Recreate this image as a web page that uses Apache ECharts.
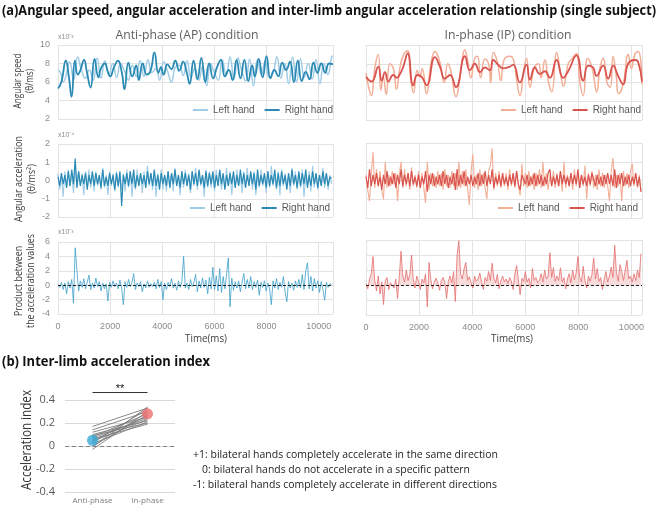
<!DOCTYPE html>
<html><head><meta charset="utf-8">
<script src="https://cdn.jsdelivr.net/npm/echarts@6/dist/echarts.min.js"></script>
<style>html,body{margin:0;padding:0;background:#fff}#c{width:658px;height:505px}</style>
</head><body><div id="c"></div>
<script>
// ---------------- DATA ----------------
const xTickLabels = ['0','2000','4000','6000','8000','10000'];
const apDurationMs = 10550;
const ipDurationMs = 10400;
const sampleStepMs = 66;

// Angular speed (x10^-3 theta/ms), [time ms, value]
const apSpeedRight = [[0,5.3],[130,6.0],[300,8.3],[420,6.5],[520,4.4],[650,8.3],[760,6.8],[850,7.2],[1000,8.4],[1100,7.2],[1250,5.4],[1400,8.5],[1550,6.5],[1650,7.5],[1800,8.0],[1900,7.2],[2000,6.6],[2150,7.6],[2300,8.3],[2450,7.0],[2550,5.2],[2700,8.1],[2850,6.6],[3000,7.8],[3100,6.2],[3250,8.0],[3400,6.8],[3550,7.2],[3700,9.2],[3850,7.0],[3950,7.6],[4050,6.8],[4200,7.9],[4350,7.4],[4500,8.3],[4650,7.2],[4800,8.2],[4950,6.9],[5050,5.8],[5200,8.3],[5350,6.3],[5500,8.6],[5650,6.0],[5800,8.0],[5950,6.4],[6100,7.6],[6250,8.4],[6400,6.6],[6550,7.3],[6700,6.2],[6850,8.4],[7000,6.4],[7150,8.4],[7300,6.1],[7450,7.8],[7550,6.6],[7700,8.5],[7850,6.5],[8000,8.8],[8150,6.4],[8300,7.3],[8450,6.6],[8600,8.1],[8750,7.3],[8900,8.2],[9050,6.0],[9200,8.3],[9350,6.1],[9500,7.1],[9650,6.3],[9800,8.1],[9950,7.0],[10100,8.0],[10250,7.0],[10400,8.0],[10550,7.9]];
const apSpeedLeft = [[0,7.3],[100,7.0],[200,6.0],[300,6.6],[450,8.2],[600,6.2],[750,8.7],[900,7.3],[1050,6.4],[1200,7.3],[1350,6.2],[1500,8.6],[1650,6.4],[1800,8.3],[1950,6.8],[2100,8.0],[2250,6.5],[2400,8.0],[2550,7.2],[2700,6.2],[2850,7.8],[3000,6.6],[3150,8.3],[3300,6.6],[3450,8.4],[3600,7.0],[3750,7.5],[3900,6.2],[4050,8.2],[4200,7.2],[4350,6.0],[4500,7.6],[4650,7.8],[4800,6.7],[4950,8.3],[5100,6.5],[5250,7.5],[5400,6.2],[5550,7.7],[5700,5.6],[5850,8.0],[6000,7.0],[6150,6.2],[6300,8.4],[6450,6.7],[6600,8.7],[6750,6.3],[6900,8.6],[7050,7.2],[7200,6.1],[7350,8.5],[7500,5.6],[7650,8.4],[7800,6.8],[7950,8.3],[8100,6.5],[8250,7.0],[8400,8.7],[8550,6.4],[8700,8.0],[8850,5.8],[9000,8.7],[9150,6.0],[9300,8.5],[9450,6.5],[9600,8.0],[9750,6.3],[9900,8.4],[10050,5.8],[10200,8.0],[10350,6.8],[10500,8.7],[10550,8.8]];
const ipSpeedRight = [[0,6.6],[213,6.1],[464,7.7],[590,6.2],[715,7.1],[841,6.1],[1029,6.8],[1155,6.5],[1280,6.9],[1406,7.7],[1569,9.1],[1782,5.7],[1933,6.8],[2096,6.6],[2284,5.7],[2598,8.7],[2786,7.7],[2974,6.4],[3163,6.8],[3389,5.5],[3727,8.8],[3916,7.3],[4104,8.0],[4292,7.1],[4480,7.6],[4669,7.3],[4794,8.4],[4982,7.9],[5171,7.5],[5422,7.7],[5547,7.9],[5798,6.0],[6049,7.9],[6175,6.3],[6363,7.6],[6551,6.9],[6739,7.2],[6928,6.5],[7179,8.4],[7430,6.5],[7618,7.2],[7932,8.9],[8183,6.2],[8371,7.8],[8559,7.6],[8685,6.7],[8936,7.8],[9124,6.4],[9312,7.8],[9500,6.7],[9689,5.8],[9877,8.0],[10128,8.4],[10253,8.2],[10400,6.1]];
const ipSpeedLeft = [[0,7.0],[100,5.5],[200,4.6],[330,7.5],[460,9.0],[560,5.2],[650,6.6],[760,4.7],[900,8.0],[1030,7.5],[1150,5.3],[1280,7.6],[1420,9.0],[1570,9.4],[1680,6.5],[1790,4.9],[1930,7.3],[2030,6.6],[2120,7.5],[2280,4.8],[2450,8.0],[2600,9.3],[2780,8.2],[2950,6.0],[3080,8.0],[3200,7.2],[3390,4.5],[3560,7.0],[3720,9.5],[3820,8.5],[3950,6.5],[4100,8.6],[4200,8.8],[4320,6.5],[4480,8.5],[4620,8.0],[4700,6.0],[4800,9.2],[4950,8.2],[5080,6.2],[5200,8.4],[5420,8.8],[5560,8.4],[5680,6.2],[5800,4.6],[5950,7.5],[6050,8.6],[6180,5.5],[6350,7.6],[6500,8.0],[6600,6.5],[6740,8.4],[6880,6.0],[7000,5.0],[7180,9.2],[7330,7.0],[7440,5.6],[7620,8.0],[7780,8.6],[7930,9.1],[8060,6.0],[8180,4.6],[8350,8.6],[8470,8.0],[8560,7.0],[8690,5.0],[8820,7.6],[8940,8.6],[9080,6.0],[9200,5.5],[9310,8.8],[9420,7.0],[9520,4.8],[9690,5.8],[9880,9.0],[10000,7.5],[10130,9.0],[10260,9.3],[10400,5.8]];

// Angular acceleration (x10^-4), sampled every sampleStepMs
const apAccRight = [0.2,-0.3,0.4,-0.2,0.3,-0.4,0.5,-0.3,0.6,-0.2, 1.2,-0.4,0.5,-0.3,0.3,-0.2,0.4,-0.5,0.3,-0.2, 0.5,-0.3,0.4,-0.2,0.3,-0.4,0.6,-0.3,0.2,-0.3, 0.4,-0.2,0.3,-0.5,0.4,-0.3,0.5,-1.4,0.3,-0.2, 0.4,-0.3,0.5,-0.2,0.6,-0.4,0.3,-0.3,0.4,-0.2, 0.3,-0.4,0.5,-0.2,0.4,-0.3,0.6,-0.3,0.3,-0.5, 0.4,-0.2,0.3,-0.3,0.5,-0.4,0.4,-0.2,0.6,-0.3, 0.3,-0.4,0.5,-0.2,0.4,-0.3,0.3,-0.5,0.5,-0.2, 0.4,-0.3,0.6,-0.2,0.3,-0.4,0.5,-0.3,0.4,-0.2, 0.5,-0.4,0.3,-0.3,0.6,-0.2,0.4,-0.5,0.3,-0.3, 0.4,-0.2,0.5,-0.4,0.3,-0.3,0.6,-0.2,0.4,-0.4, 0.3,-0.3,0.5,-0.2,0.4,-0.5,0.6,-0.3,0.3,-0.2, 0.4,-0.4,0.5,-0.3,0.3,-0.2,0.6,-0.4,0.4,-0.3, 0.5,-0.2,0.3,-0.5,0.4,-0.3,0.6,-0.2,0.3,-0.4, 0.5,-0.3,0.4,-0.2,0.6,-0.4,0.3,-0.3,0.5,-0.2, 0.4,-0.4,0.3,-0.3,0.5,-0.2,0.4,-0.3,0.2,0.1];
const apAccLeft = [0.4,-0.5,0.3,-0.9,0.5,-0.4,0.6,-0.3,0.4,-0.7, 0.8,-0.4,0.5,-0.3,0.4,-0.8,0.5,-0.3,0.6,-0.4, 0.4,-0.6,0.5,-0.3,0.3,-0.5,0.7,-0.4,0.3,-0.8, 0.5,-0.3,0.4,-0.6,0.5,-0.4,0.3,-0.5,0.4,-0.6, 0.6,-0.4,0.5,-0.9,0.3,-0.5,0.6,-0.3,0.4,-0.7, 0.5,-0.4,0.8,-0.3,0.4,-0.5,0.5,-0.9,0.4,-0.3, 0.6,-0.5,0.3,-0.6,0.5,-0.4,0.4,-0.6,0.7,-0.3, 0.3,-0.8,0.5,-0.4,0.6,-0.3,0.4,-0.7,0.5,-0.3, 0.7,-0.5,0.4,-0.3,0.3,-0.9,0.6,-0.4,0.5,-0.4, 0.4,-0.6,0.6,-0.3,0.5,-0.5,0.3,-0.4,0.7,-0.3, 0.5,-0.8,0.4,-0.4,0.6,-0.3,0.3,-0.7,0.5,-0.4, 0.7,-0.3,0.4,-0.5,0.5,-0.8,0.3,-0.4,0.6,-0.3, 0.4,-0.7,0.5,-0.4,0.8,-0.3,0.3,-0.5,0.5,-0.8, 0.6,-0.3,0.4,-0.4,0.3,-0.7,0.7,-0.3,0.5,-0.5, 0.4,-0.4,0.6,-0.9,0.3,-0.3,0.5,-0.6,0.8,-0.4, 0.4,-0.5,0.3,-0.3,0.7,-0.4,0.4,-0.5,0.3,-0.2];
const ipAccRight = [0.2,-0.4,0.6,-0.3,0.3,-0.2,0.4,-0.3,0.2,-0.5, 0.3,-0.2,0.5,-0.3,0.2,-0.2,0.4,-0.4,0.3,-0.2, 0.6,-0.3,0.3,-0.2,0.4,-0.3,0.5,-0.2,0.2,-0.3, 0.3,-0.4,0.2,-0.2,0.5,-0.6,0.3,-0.2,0.4,-0.3, 0.2,-0.2,0.3,-0.3,0.5,-0.2,0.3,-0.4,0.2,-0.2, 0.4,-0.5,0.6,-0.3,0.3,-0.2,0.5,-0.3,0.2,-0.2, 0.3,-0.3,0.2,-0.2,0.4,-0.3,0.3,-0.2,0.5,-0.3, 0.3,-0.2,0.6,-0.4,0.2,-0.2,0.3,-0.3,0.4,-0.2, 0.2,-0.3,0.3,-0.2,0.4,-0.3,0.5,-0.2,-0.5,0.3, 0.2,-0.2,0.3,-0.3,0.2,-0.2,0.4,-0.3,0.3,-0.2, 0.3,-0.3,0.2,-0.2,0.4,0.6,-0.3,0.2,-0.2,0.3, -0.3,0.5,-0.2,0.3,-0.2,0.2,-0.3,0.4,-0.2,0.3, -0.2,0.6,-0.4,0.3,-0.2,0.2,-0.3,0.3,-0.2,0.4, 0.5,-0.3,0.3,-0.2,0.2,-0.3,0.3,-0.2,0.4,-0.2, 0.3,-0.3,0.6,-0.4,0.3,-0.2,0.4,-0.3,0.2,-0.2, 0.3,-0.3,0.2,-0.2,0.4,-0.3,0.2,-0.6];
const ipAccLeft = [0.3,-0.5,-1.1,0.4,1.5,-0.4,0.6,-0.3,0.5,-0.5, -1.0,1.0,-0.4,0.3,-0.3,0.5,-0.2,0.4,-1.1,0.3, 1.0,-0.4,0.6,-0.3,0.4,-0.5,0.7,-0.3,0.3,-0.4, 0.5,-0.3,0.4,-0.4,-1.2,1.0,-0.5,0.4,-0.3,0.3, -0.4,0.5,-0.3,0.4,-0.5,0.6,-0.3,0.3,-0.4,0.5, -0.3,0.4,-0.5,1.0,-0.4,0.5,-0.3,0.6,-0.4,-1.3, 0.5,1.4,-0.4,0.3,-0.5,0.6,-0.3,0.4,-0.4,-1.0, 0.5,0.8,1.7,-0.5,0.4,-0.3,0.5,-0.4,0.3,-0.3, 0.4,-0.5,0.6,-0.3,0.3,-0.4,0.5,-0.3,-0.8,0.9, -0.3,0.4,-0.4,0.5,-0.3,0.3,-0.5,0.4,-0.3,0.6, -0.4,1.0,-0.3,0.4,-0.5,0.3,-0.3,0.5,-0.4,0.4, -0.3,0.5,-0.6,1.0,-0.4,0.3,-0.3,0.4,-0.5,0.6, -0.3,0.4,-0.4,0.3,-0.3,0.8,-1.0,0.4,-0.3,0.5, -0.4,0.3,-0.5,0.6,-0.3,0.4,-0.4,0.3,-0.3,-1.1, 0.5,1.2,-0.4,0.3,-0.3,0.4,-1.1,0.5,-0.3,0.4, -0.4,0.5,0.9,-0.3,0.4,-0.4,0.3,-0.6];

// Product between the acceleration values (x10^-3)
const apProduct = [0.1,-0.3,0.4,-0.6,0.3,-1.2,0.5,-0.4,0.8,-2.5, 5.2,2.0,-0.8,0.6,-0.3,0.9,-0.5,0.4,1.4,-0.6, 0.3,-0.4,1.0,-0.2,0.5,-0.8,0.3,-0.5,0.2,-2.2, 0.4,-0.3,0.6,-0.2,0.3,-0.5,0.7,-0.4,-2.7,0.5, -0.3,0.8,-0.2,0.4,1.6,-0.6,0.3,-0.2,0.5,-0.9, 0.2,-0.4,0.6,-0.3,0.2,-0.2,0.4,-0.5,0.8,-0.3, 0.5,-2.0,0.3,-0.6,0.4,-0.2,0.9,-0.4,0.3,-0.7, 0.6,-0.3,0.5,4.0,-0.4,0.3,-0.6,0.8,-0.2,0.4, 1.5,-0.9,0.6,-0.4,1.0,-0.3,0.7,-1.2,1.1,-0.5, 2.5,-0.6,1.3,-0.8,2.3,-1.0,1.2,-0.5,1.6,3.8, -3.0,1.0,-0.7,0.5,-0.4,0.6,-0.9,0.4,1.6,-0.5, 0.8,-0.4,1.2,-0.6,0.5,-0.3,0.7,-1.4,0.4,-0.3, 0.6,-0.8,0.3,-0.5,-2.7,0.6,-0.4,0.9,-0.6,0.4, -0.3,1.2,-0.9,-2.3,0.5,-0.4,0.3,-0.7,0.6,-0.3, 0.8,-0.4,1.5,-0.6,2.0,3.1,-0.5,1.2,-0.8,0.9, -0.4,0.6,-1.0,0.5,-0.6,-2.1,0.4,-0.3,0.2,0.1];
const ipProduct = [0.2,-0.5,0.8,1.5,3.8,0.6,-0.8,1.2,-1.2,0.4, -2.6,0.6,1.0,-0.6,0.3,0.5,-0.4,0.8,-1.8,1.0, 4.5,1.2,0.4,2.0,0.6,1.4,4.0,0.8,-0.4,1.2, 0.5,-0.6,0.8,0.3,1.5,-2.9,3.0,0.7,-0.5,0.4, 0.9,0.3,-0.7,0.6,1.0,0.4,-1.8,0.5,1.2,0.3, 1.8,-2.2,4.0,5.9,1.5,0.8,2.2,3.0,0.6,1.1, 0.3,-0.4,1.2,0.5,0.8,1.6,0.4,-0.6,1.0,0.5, 1.8,0.6,2.9,0.9,0.3,1.4,-0.5,0.6,1.2,0.4, 0.8,0.2,1.0,0.5,-0.6,1.5,2.6,0.7,-1.3,0.9, 0.5,1.8,0.4,0.9,-0.4,2.2,0.6,1.0,0.3,0.6, 1.5,0.4,2.0,0.8,1.2,4.3,1.0,2.3,0.5,1.2, 0.6,2.3,0.4,1.0,-0.5,0.8,1.5,0.3,2.0,0.7, 1.6,3.8,1.0,0.4,2.5,0.6,-0.4,1.2,0.5,1.4, 3.6,0.8,2.2,0.5,1.0,-0.6,0.7,1.8,0.4,1.2, 2.4,1.0,5.3,1.6,0.5,2.7,1.8,0.6,2.0,3.3, 0.8,1.2,0.4,1.5,0.6,2.0,1.0,4.2];

// Inter-limb acceleration index (per subject)
const indexCategories = ['Anti-phase','In-phase'];
const antiPhaseIndex = [0.17,0.14,0.12,0.10,0.09,0.08,0.07,0.06,0.05,0.04,0.03,0.02,0.00,-0.01,-0.03];
const inPhaseIndex   = [0.33,0.30,0.25,0.22,0.20,0.28,0.24,0.19,0.26,0.23,0.32,0.21,0.27,0.34,0.30];
const groupMeanIndex = [0.05,0.28];
const significanceLevel = 0.465;

// ---------------- STYLE ----------------
const C = {apDark:'#2a8ab4', apLight:'#a0cce6', apProd:'#3d9fc9', ipDark:'#d9534f', ipLight:'#f3ae96', ipProd:'#e46f6f',
  grid:'#e3e3e3', tick:'#8c8c8c', blueDot:'#36a9d6', redDot:'#ef6e6e'};
const CAL = "'Open Sans', 'Noto Sans', sans-serif";
const ARI = "'Liberation Sans', Arial, sans-serif";

const mctx = document.createElement('canvas').getContext('2d');
function fitScale(text, font, w){ mctx.font = font; return w / mctx.measureText(text).width; }
function txt(id, text, x, y, o){
  o = o || {};
  const size = o.size || 10, weight = o.weight || 'normal', fam = o.family || CAL;
  const font = weight + ' ' + size + 'px ' + fam;
  const first = text.split('\n').reduce((a,b)=> b.length>a.length?b:a, '');
  const sc = o.width ? fitScale(first, font, o.width) : 1;
  return {type:'text', id, x, y, rotation: o.rot || 0, scaleX: sc, z: 100,
    style:{text, font, fontSize:size, fontWeight:weight, fontFamily:fam, fill:o.color||'#404040',
      align:o.align||'center', verticalAlign:'middle', textAlign:o.align||'center', textVerticalAlign:'middle',
      lineHeight:o.lh||Math.round(size*1.25)}};
}

const toSeries = (vals) => vals.map((v,i)=>[i*sampleStepMs, v]);

const grids = [
  {left:58, top:45, width:275, height:74},
  {left:366, top:45, width:276, height:75},
  {left:58, top:144, width:275, height:73},
  {left:366, top:143, width:276, height:75},
  {left:58, top:242, width:275, height:72},
  {left:366, top:240, width:276, height:75},
  {left:65, top:400, width:110, height:92}
];

function xAx(i, max, show){
  return {type:'value', gridIndex:i, min:0, max, interval:2000,
    axisLine:{show:false}, axisTick:{show:false},
    axisLabel:{show:show, showMaxLabel:false, color:C.tick, fontSize:9, fontFamily:ARI, margin:8,
      formatter:(v)=> xTickLabels[Math.round(v/2000)] || ''},
    splitLine:{show:true, lineStyle:{color:C.grid, width:1}}};
}
function yAx(i, min, max, interval, show){
  return {type:'value', gridIndex:i, min, max, interval,
    axisLine:{show:false}, axisTick:{show:false},
    axisLabel:{show:show, color:C.tick, fontSize:9, fontFamily:ARI, margin:8},
    splitLine:{show:true, lineStyle:{color:C.grid, width:1}}};
}

const xAxes = [xAx(0,apDurationMs,false), xAx(1,ipDurationMs,false), xAx(2,apDurationMs,false), xAx(3,ipDurationMs,false), xAx(4,apDurationMs,true), xAx(5,ipDurationMs,true),
  {type:'category', gridIndex:6, data:indexCategories, boundaryGap:true, axisLine:{show:false}, axisTick:{show:false},
   axisLabel:{color:'#7f7f7f', fontSize:8, fontFamily:CAL, margin:5}, splitLine:{show:false}}];
const yAxes = [yAx(0,2,10,2,true), yAx(1,2,10,2,false), yAx(2,-2,2,1,true), yAx(3,-2,2,1,false), yAx(4,-4,6,2,true), yAx(5,-4,6,2,false),
  {type:'value', gridIndex:6, min:-0.4, max:0.4, interval:0.2, axisLine:{show:false}, axisTick:{show:false},
   axisLabel:{color:'#595959', fontSize:11, fontFamily:CAL, margin:10, formatter:(v)=> (Math.round(v*10)/10).toString()},
   splitLine:{show:true, lineStyle:{color:'#d9d9d9', width:1}}}];

function line(name, idx, data, color, width, extra){
  return Object.assign({type:'line', name, xAxisIndex:idx, yAxisIndex:idx, data, symbol:'none',
    lineStyle:{color, width}, itemStyle:{color}, silent:true}, extra||{});
}
const zeroDash = {markLine:{silent:true, symbol:'none', label:{show:false}, data:[{yAxis:0}], lineStyle:{type:[3,2], color:'#222', width:1}}};

const series = [
  line('apSpeedL',0,apSpeedLeft,C.apLight,1.5,{smooth:0.5}),
  line('apSpeedR',0,apSpeedRight,C.apDark,1.8,{smooth:0.5}),
  line('ipSpeedL',1,ipSpeedLeft,C.ipLight,1.5,{smooth:0.5}),
  line('ipSpeedR',1,ipSpeedRight,C.ipDark,1.8,{smooth:0.5}),
  line('apAccL',2,toSeries(apAccLeft),C.apLight,1.1),
  line('apAccR',2,toSeries(apAccRight),C.apDark,1.2),
  line('ipAccL',3,toSeries(ipAccLeft),C.ipLight,1.1),
  line('ipAccR',3,toSeries(ipAccRight),C.ipDark,1.2),
  line('apProd',4,toSeries(apProduct),C.apProd,0.8,zeroDash),
  line('ipProd',5,toSeries(ipProduct),C.ipProd,0.8,Object.assign({areaStyle:{color:C.ipProd, opacity:0.25}}, zeroDash))
];
antiPhaseIndex.forEach((v,k)=>{
  series.push(line('subj'+k,6,[[indexCategories[0],v],[indexCategories[1],inPhaseIndex[k]]],'#7d7d7d',0.9));
});
series.push(Object.assign(line('zeroIdx',6,[],'#888',1),{markLine:{silent:true, symbol:'none', label:{show:false}, data:[{yAxis:0}], lineStyle:{type:[4,3], color:'#808080', width:1}}}));
series.push(line('sig',6,[[indexCategories[0],significanceLevel],[indexCategories[1],significanceLevel]],'#333',1,{clip:false}));
series.push({type:'scatter', xAxisIndex:6, yAxisIndex:6, data:[[indexCategories[0],groupMeanIndex[0]]], symbolSize:11, itemStyle:{color:C.blueDot}, z:5, silent:true});
series.push({type:'scatter', xAxisIndex:6, yAxisIndex:6, data:[[indexCategories[1],groupMeanIndex[1]]], symbolSize:11, itemStyle:{color:C.redDot}, z:5, silent:true});

const legendNames = {apSpeedL:'Left hand', apSpeedR:'Right hand', ipSpeedL:'Left hand', ipSpeedR:'Right hand', apAccL:'Left hand', apAccR:'Right hand', ipAccL:'Left hand', ipAccR:'Right hand'};
function leg(names, right, top){
  return {data:names, right, top, padding:0, itemGap:10, itemWidth:15, itemHeight:2, icon:'rect', selectedMode:false,
    formatter:(n)=>legendNames[n], textStyle:{color:'#595959', fontSize:10, fontFamily:ARI}};
}

const graphics = [
  txt('ta','(a)Angular speed, angular acceleration and inter-limb angular acceleration relationship (single subject)',2,11,{size:15,weight:'bold',align:'left',width:654,color:'#111'}),
  txt('t1','Anti-phase (AP) condition',187,35,{size:13,width:143,color:'#606060'}),
  txt('t2','In-phase (IP) condition',508,35,{size:13,width:127,color:'#606060'}),
  txt('y1','Angular speed\n(θ/ms)',24,81,{size:11,rot:Math.PI/2,width:55,lh:12,color:'#404040'}),
  txt('y2','Angular acceleration\n(θ/ms²)',25,179,{size:11,rot:Math.PI/2,width:86,lh:13,color:'#404040'}),
  txt('y3','Product between\nthe acceleration values',25,281,{size:11,rot:Math.PI/2,width:94,lh:12,color:'#404040'}),
  txt('e1','x10⁻³',58,37,{size:7,family:ARI,align:'left',color:C.tick}),
  txt('e2','x10⁻⁴',58,135,{size:7,family:ARI,align:'left',color:C.tick}),
  txt('e3','x10⁻³',58,232,{size:7,family:ARI,align:'left',color:C.tick}),
  txt('x1','Time(ms)',206,339,{size:11,width:42,color:'#404040'}),
  txt('x2','Time(ms)',512,339,{size:11,width:42,color:'#404040'}),
  txt('tb','(b) Inter-limb acceleration index',2,362,{size:14,weight:'bold',align:'left',width:208,color:'#111'}),
  txt('yb','Acceleration index',27,440,{size:14,rot:Math.PI/2,width:100,color:'#333'}),
  txt('n1','+1: bilateral hands completely accelerate in the same direction',193,455,{size:10,align:'left',width:305,color:'#222'}),
  txt('n2','0: bilateral hands do not accelerate in a specific pattern',202,470,{size:10,align:'left',width:268,color:'#222'}),
  txt('n3','-1: bilateral hands completely accelerate in different directions',193,485,{size:10,align:'left',width:304,color:'#222'})
];

const chart = echarts.init(document.getElementById('c'), null, {renderer:'canvas'});
chart.setOption({
  animation:false, backgroundColor:'#fff',
  grid:grids, xAxis:xAxes, yAxis:yAxes, series,
  legend:[leg(['apSpeedL','apSpeedR'],325,105), leg(['ipSpeedL','ipSpeedR'],17,105), leg(['apAccL','apAccR'],328,203), leg(['ipAccL','ipAccR'],20,203)],
  graphic:graphics
});
const p0 = chart.convertToPixel({xAxisIndex:6, yAxisIndex:6}, [indexCategories[0], significanceLevel]);
const p1 = chart.convertToPixel({xAxisIndex:6, yAxisIndex:6}, [indexCategories[1], significanceLevel]);
graphics.push(txt('sg','**',(p0[0]+p1[0])/2,p0[1]-4,{size:11,family:ARI,color:'#111'}));
chart.setOption({graphic:graphics});
</script></body></html>
